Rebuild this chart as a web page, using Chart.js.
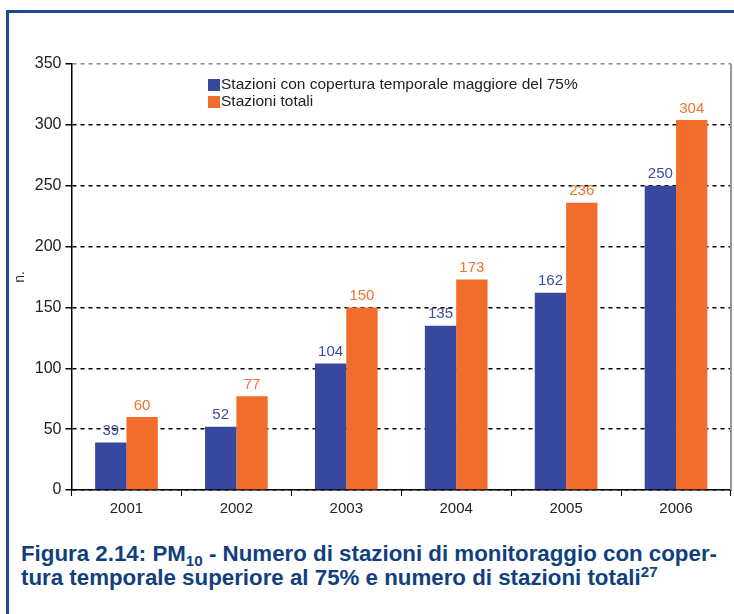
<!DOCTYPE html>
<html>
<head>
<meta charset="utf-8">
<script src="https://cdn.jsdelivr.net/npm/chart.js@4.4.0/dist/chart.umd.min.js"></script>
<style>
  body { margin: 0; background: #fff; width: 734px; height: 614px; overflow: hidden; position: relative; }
  #frame {
    position: absolute; left: 6px; top: 10px; width: 800px; height: 700px;
    border-left: 3px solid #1d4a8a; border-top: 3px solid #1d4a8a;
  }
  #wrap { position: absolute; left: 0; top: 0; width: 734px; height: 522px; }
  #caption {
    position: absolute; left: 21px; top: 542px;
    font-family: "Liberation Sans", Arial, sans-serif;
    font-weight: bold; font-size: 22px; line-height: 24px; color: #123f7e;
    white-space: nowrap; transform-origin: 0 0;
  }
  #caption span { display: inline-block; }
  #caption sub, #caption sup { font-size: 15px; line-height: 0; }
</style>
</head>
<body>
<div id="frame"></div>
<div id="wrap"><canvas id="chart" width="734" height="522"></canvas></div>
<div id="caption"><span id="line1">Figura 2.14: PM<sub>10</sub> - Numero di stazioni di monitoraggio con coper-</span><br><span>tura temporale superiore al 75% e numero di stazioni totali<sup>27</sup></span></div>
<script>
// data
const years = ["2001", "2002", "2003", "2004", "2005", "2006"];
const covered = [39, 52, 104, 135, 162, 250]; // copertura > 75%
const total = [60, 77, 150, 173, 236, 304];
const seriesNames = ["Stazioni con copertura temporale maggiore del 75%", "Stazioni totali"];
const barColors = ["#39489f", "#f26c2c"];
const labelColors = ["#3d4ca3", "#f0742f"];

const FONT = "'Liberation Sans', Arial, sans-serif";

// squeeze the caption to the width of the original (condensed type)
const cap = document.getElementById("caption");
const w1 = document.getElementById("line1").getBoundingClientRect().width;
cap.style.transform = "scaleX(" + (696 / w1) + ")";

// value labels above each bar
const valueLabels = {
  id: "valueLabels",
  afterDatasetsDraw(chart) {
    const ctx = chart.ctx;
    ctx.save();
    ctx.font = "15px " + FONT;
    ctx.textAlign = "center";
    ctx.textBaseline = "bottom";
    chart.data.datasets.forEach((ds, i) => {
      ctx.fillStyle = labelColors[i];
      chart.getDatasetMeta(i).data.forEach((bar, j) => {
        ctx.fillText(ds.data[j], bar.x, bar.y - 4);
      });
    });
    ctx.restore();
  }
};

// legend inside the plot + grey right edge
const innerLegend = {
  id: "innerLegend",
  afterDraw(chart) {
    const ctx = chart.ctx;
    const area = chart.chartArea;
    ctx.save();
    ctx.strokeStyle = "#9a9a9a";
    ctx.lineWidth = 2;
    ctx.beginPath();
    ctx.moveTo(area.right, area.top);
    ctx.lineTo(area.right, area.bottom);
    ctx.stroke();

    ctx.font = "15.5px " + FONT;
    ctx.textBaseline = "middle";
    chart.data.datasets.forEach((ds, i) => {
      const y = area.top + 21 + i * 17;
      ctx.fillStyle = ds.backgroundColor;
      ctx.fillRect(208, y - 6, 12, 12);
      ctx.fillStyle = "#222";
      ctx.fillText(ds.label, 221, y);
    });
    ctx.restore();
  }
};

new Chart(document.getElementById("chart"), {
  type: "bar",
  data: {
    labels: years,
    datasets: [
      { label: seriesNames[0], data: covered, backgroundColor: barColors[0] },
      { label: seriesNames[1], data: total, backgroundColor: barColors[1] }
    ]
  },
  options: {
    responsive: false,
    animation: false,
    layout: { padding: { top: 64, right: 3, left: 10, bottom: 0 } },
    datasets: { bar: { barPercentage: 1, categoryPercentage: 0.57 } },
    plugins: { legend: { display: false }, tooltip: { enabled: false } },
    scales: {
      x: {
        grid: { offset: true, drawOnChartArea: false, drawTicks: true, tickLength: 6, color: "#000" },
        border: { color: "#000", width: 1.5 },
        ticks: { color: "#222", font: { size: 15, family: FONT }, padding: 4 }
      },
      y: {
        min: 0, max: 350,
        ticks: { stepSize: 50, color: "#222", font: { size: 16, family: FONT }, padding: 4 },
        grid: {
          color: (c) => c.tick && c.tick.value === 350 ? "#8a8a8a" : "#000",
          tickColor: "#000",
          tickLength: 6,
          lineWidth: 1.5,
          tickBorderDash: [0, 0]
        },
        border: { color: "#000", width: 1.5, dash: [4, 4] },
        title: { display: true, text: "n.", color: "#222", font: { size: 14, family: FONT }, padding: { top: 2, bottom: 2 } }
      }
    }
  },
  plugins: [valueLabels, innerLegend]
});
</script>
</body>
</html>
